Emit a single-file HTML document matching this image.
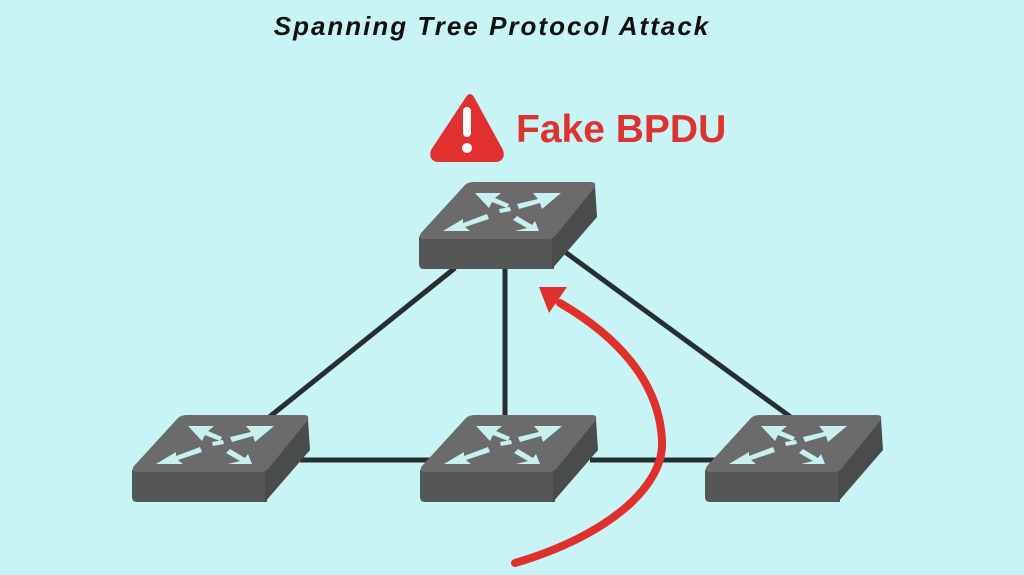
<!DOCTYPE html>
<html><head><meta charset="utf-8"><style>
html,body{margin:0;padding:0;background:#c8f4f5;}
svg{display:block}
</style></head><body>
<svg width="1024" height="575" viewBox="0 0 1024 575" xmlns="http://www.w3.org/2000/svg">
<rect width="1024" height="575" fill="#c8f4f5"/>
<defs>
<g id="sw">
  <path d="M0 55 L135 55 L135 87 L5 87 Q0 87 0 82 Z" fill="#555656"/>
  <path d="M133 57 L176 4 L178 35 L133 87 Z" fill="#4a4b4b"/>
  <path d="M46 3 Q49 0 55 0 L171 0 Q179 0 175 6 L137 53 Q134 57 128 57 L5 57 Q-2 57 2 51 Z" fill="#6a6b6a"/>
  <g fill="#c8f0f0">
    <path d="M80 27 L91 25 L92 29 L81 31 Z"/>
    <path d="M56 11 L82 11 L76 16 L90 22 L88 26 L73 20 L70 26 Z"/>
    <path d="M142 11 L114 11 L119 17 L98 22 L100 27 L121 21 L123 27 Z"/>
    <path d="M24 49 L44 37 L44 41 L68 32 L70 37 L46 45 L51 49 Z"/>
    <path d="M96 49 L120 49 L116 39 L113 43 L98 34 L94 38 L108 46 Z"/>
  </g>
</g>
</defs>
<g stroke="#263033" stroke-width="5" fill="none">
  <line x1="455" y1="268" x2="268" y2="418"/>
  <line x1="505" y1="268" x2="505" y2="418"/>
  <line x1="565" y1="252" x2="792" y2="418"/>
  <line x1="300" y1="460" x2="430" y2="460"/>
  <line x1="590" y1="460" x2="715" y2="460"/>
</g>
<use href="#sw" x="419" y="182"/>
<use href="#sw" x="132" y="415"/>
<use href="#sw" x="420" y="415"/>
<use href="#sw" x="705" y="415"/>
<text x="492" y="35" text-anchor="middle" font-family="Liberation Sans, sans-serif" font-size="26" font-weight="bold" font-style="italic" letter-spacing="2" fill="#111">Spanning Tree Protocol Attack</text>
<path d="M466 97 Q470 91 474 97 L503 150 Q506 160 497 162 L437 162 Q428 160 431 150 Z" fill="#e03030"/>
<rect x="463" y="107" width="8" height="30" rx="4" fill="#fff"/>
<circle cx="467" cy="148" r="5" fill="#fff"/>
<text x="516" y="142" font-family="Liberation Sans, sans-serif" font-size="39" font-weight="bold" fill="#dc3331">Fake BPDU</text>
<path d="M515 563 C 610 535, 665 485, 662 440 C 659 380, 615 335, 560 303" stroke="#e0302c" stroke-width="8" fill="none" stroke-linecap="round"/>
<path d="M539 287 L567 287 L549 313 Z" fill="#e0302c"/>
</svg>
</body></html>
